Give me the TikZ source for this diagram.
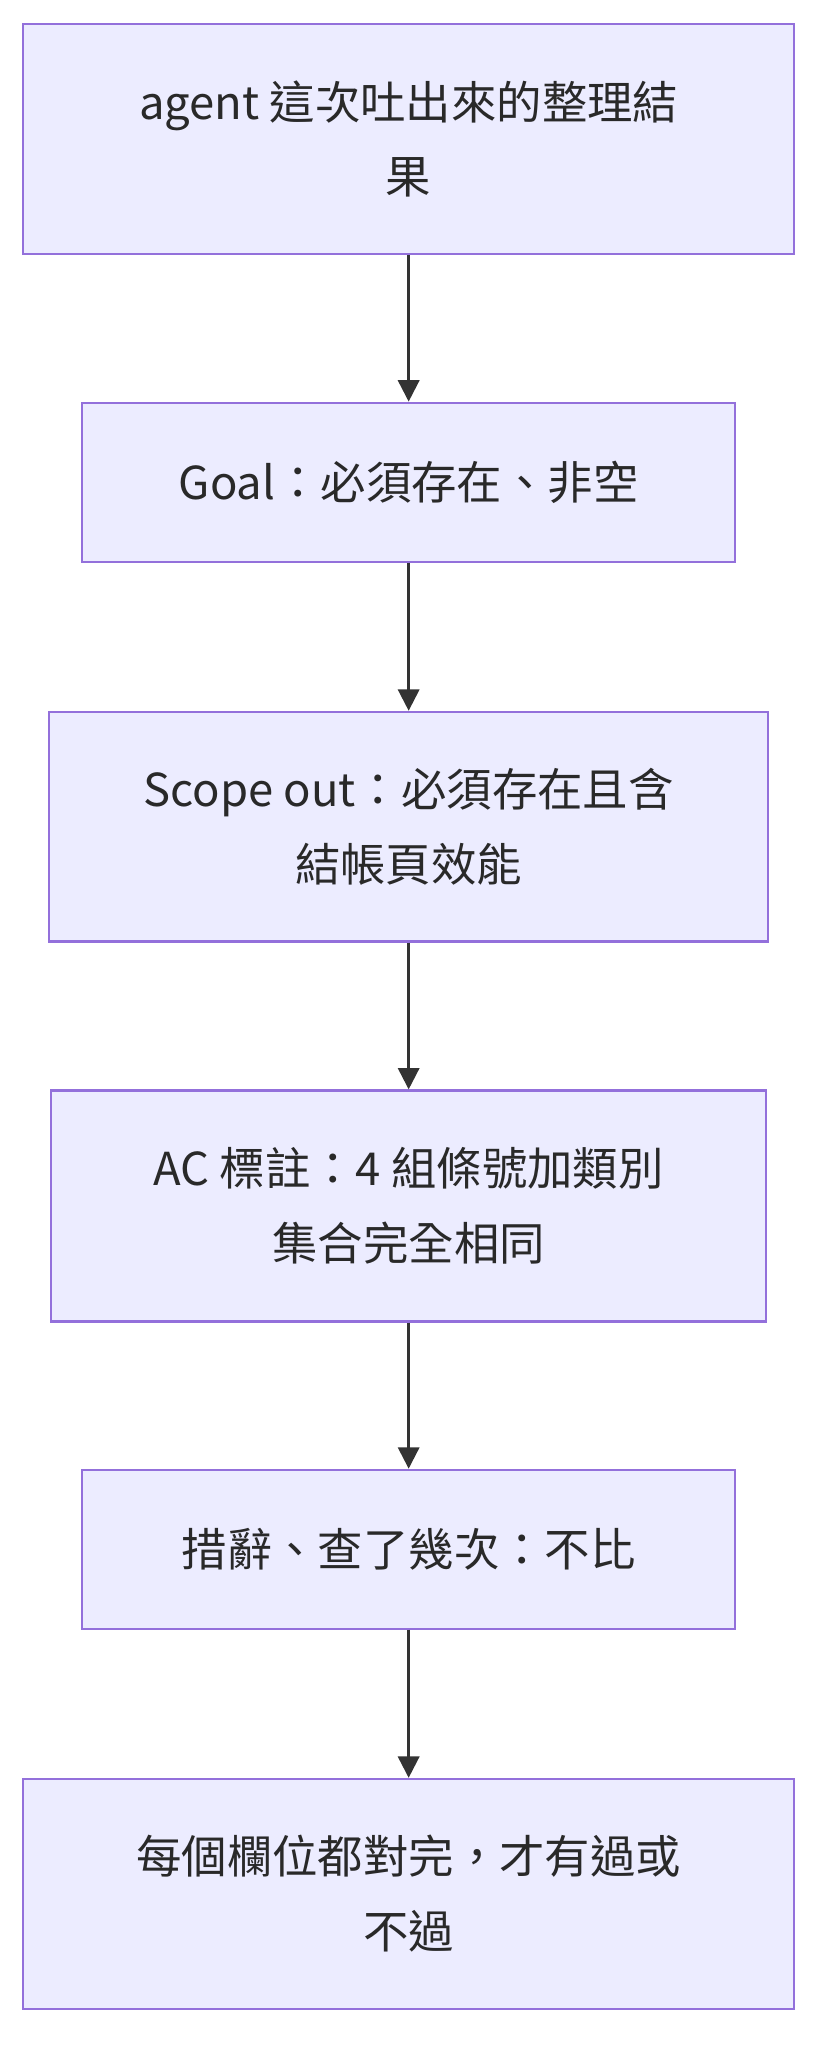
\documentclass[tikz,border=0pt]{standalone}
\usepackage{fontspec}
\setmainfont{Noto Sans CJK TC}
\usetikzlibrary{arrows.meta,positioning}
\definecolor{boxfill}{HTML}{ECECFF}
\definecolor{boxline}{HTML}{9370DB}
\definecolor{linkc}{HTML}{333333}
\tikzset{
  stage/.style={rectangle, draw=boxline, fill=boxfill, line width=0.8pt,
    align=center, font=\fontsize{17}{28}\selectfont, text=linkc!80!black,
    inner sep=0pt},
  link/.style={-{Triangle[length=8pt,width=8pt]}, draw=linkc, line width=0.9pt}
}
\begin{document}
\begin{tikzpicture}[x=0.5pt,y=-0.5pt]
  \useasboundingbox (0,0) rectangle (621,1541);

  \node[stage, minimum width=288.5pt, minimum height=86pt] (result) at (306,104) {agent 這次吐出來的整理結\\果};
  \node[stage, minimum width=244.5pt, minimum height=59.5pt] (goal) at (306,361) {Goal：必須存在、非空};
  \node[stage, minimum width=269pt, minimum height=86pt] (scope) at (306,619) {Scope out：必須存在且含\\結帳頁效能};
  \node[stage, minimum width=267.5pt, minimum height=86.5pt] (ac) at (306,903) {AC 標註：4 組條號加類別\\集合完全相同};
  \node[stage, minimum width=244.5pt, minimum height=59.5pt] (wording) at (306,1160) {措辭、查了幾次：不比};
  \node[stage, minimum width=288.5pt, minimum height=86pt] (verdict) at (306,1418) {每個欄位都對完，才有過或\\不過};

  \draw[link] (result) -- (goal);
  \draw[link] (goal) -- (scope);
  \draw[link] (scope) -- (ac);
  \draw[link] (ac) -- (wording);
  \draw[link] (wording) -- (verdict);
\end{tikzpicture}
\end{document}
